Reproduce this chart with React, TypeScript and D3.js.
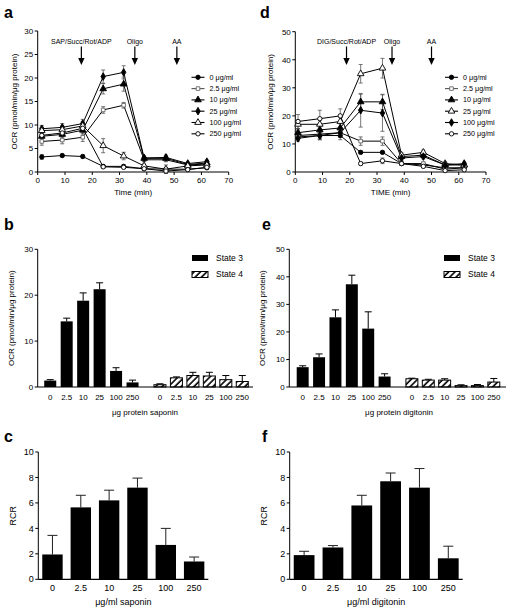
import React from "react";
import * as d3 from "d3";

const FONT = "'Liberation Sans', Arial, Helvetica, sans-serif";

// ---------- shared categories ----------
const concLabels = ["0 μg/ml", "2.5 μg/ml", "10 μg/ml", "25 μg/ml", "100 μg/ml", "250 μg/ml"];
const doseCats = ["0", "2.5", "10", "25", "100", "250"];
const stateNames = ["State 3", "State 4"];

// ---------- panel a (saponin time course) ----------
const aTimes = [1.5, 9, 16.5, 24, 31.5, 39, 47, 55, 62];
const a0 = [3.2, 3.5, 3.3, 1.2, 1.2, 0.7, 0.6, 0.6, 0.9];
const a2_5 = [6.5, 6.8, 7.4, 13.2, 14.2, 2.6, 2.6, 1.5, 1.7];
const a10 = [7.6, 8.0, 8.9, 17.7, 18.7, 2.9, 2.9, 1.6, 1.9];
const a25 = [9.2, 9.5, 10.3, 20.3, 21.2, 3.0, 3.1, 1.8, 2.2];
const a100 = [8.8, 9.0, 9.8, 5.6, 3.4, 1.3, 0.6, 1.3, 1.5];
const a250 = [7.8, 8.3, 9.3, 1.1, 1.0, 0.7, 0.2, 0.5, 1.0];
const a0Err = [0.5, 0.3, 0.3, 0.3, 0.3, 0.2, 0.3, 0.2, 0.2];
const a2_5Err = [0.8, 0.8, 0.9, 0.7, 0.6, 0.4, 0.4, 0.3, 0.3];
const a10Err = [0.6, 0.7, 0.8, 1.1, 1.5, 0.4, 0.4, 0.3, 0.3];
const a25Err = [0.7, 0.8, 0.9, 1.4, 1.4, 0.4, 0.5, 0.3, 0.3];
const a100Err = [0.7, 0.8, 0.9, 1.5, 0.8, 0.4, 0.9, 0.3, 0.3];
const a250Err = [0.6, 0.6, 0.8, 0.3, 0.3, 0.3, 0.5, 0.3, 0.3];
const aMarkers = ["circleF", "squareO", "triangleF", "diamondF", "triangleO", "circleO"];
const aArrowLabels = ["SAP/Succ/Rot/ADP", "Oligo", "AA"];
const aArrowTimes = [16, 35.6, 51];

// ---------- panel d (digitonin time course) ----------
const dTimes = [1, 9, 16.5, 24, 32, 39, 47, 55, 62];
const d0 = [12.5, 13, 13, 7, 7, 3, 2.5, 1.5, 1.5];
const d2_5 = [13, 13.5, 14, 11, 11, 3, 3, 1, 1.5];
const d10 = [14, 15, 15.7, 25, 25, 5.5, 6, 2.5, 2.5];
const d25 = [17, 17, 18, 35, 37, 6, 7, 3, 2.5];
const d100 = [12, 13, 14, 22, 21, 5, 5.5, 2.5, 3];
const d250 = [18, 19, 20, 3, 4, 3, 2, 0.5, 0.8];
const d0Err = [1, 1.5, 1.5, 0.5, 0.5, 0.5, 0.5, 0.5, 0.5];
const d2_5Err = [1, 1.5, 1.5, 1.5, 1.5, 0.5, 0.5, 0.5, 0.5];
const d10Err = [1, 1.5, 1.5, 2.7, 2.7, 0.8, 0.8, 0.5, 0.5];
const d25Err = [1.5, 1.5, 2, 3.3, 3.5, 0.8, 0.8, 0.5, 0.5];
const d100Err = [1, 1.5, 1.5, 6, 6.5, 0.8, 0.8, 0.5, 0.5];
const d250Err = [2.5, 3, 2.5, 0.5, 1, 0.5, 0.5, 0.3, 0.3];
const dMarkers = ["circleF", "squareO", "triangleF", "triangleO", "diamondF", "circleO"];
const dArrowLabels = ["DIG/Succ/Rot/ADP", "Oligo", "AA"];
const dArrowTimes = [18.8, 35.5, 50];

// ---------- panel b ----------
const bState3 = [1.4, 14.3, 18.8, 21.3, 3.5, 1.0];
const bState3Err = [0.2, 0.7, 1.7, 1.4, 0.7, 0.5];
const bState4 = [0.5, 2.0, 2.5, 2.4, 1.6, 1.2];
const bState4Err = [0.2, 0.2, 0.7, 0.8, 0.9, 1.3];

// ---------- panel e ----------
const eState3 = [7.2, 10.8, 25.3, 37.3, 21.2, 3.8];
const eState3Err = [0.5, 1.2, 2.7, 3.3, 6.1, 1.0];
const eState4 = [3.0, 2.5, 2.5, 0.5, 0.5, 1.8];
const eState4Err = [0.2, 0.3, 0.5, 0.3, 0.4, 1.3];

// ---------- panel c / f ----------
const cRCR = [1.95, 5.65, 6.2, 7.2, 2.7, 1.4];
const cRCRErr = [1.5, 0.95, 0.8, 0.75, 1.3, 0.35];
const fRCR = [1.9, 2.5, 5.8, 7.7, 7.2, 1.65];
const fRCRErr = [0.3, 0.15, 0.8, 0.65, 1.5, 0.95];

type Lin = d3.ScaleLinear<number, number>;

function Marker({ type, x, y }: { type: string; x: number; y: number }) {
  const shape = type.slice(0, -1);
  const open = type.endsWith("O");
  const map: any = {
    circle: d3.symbolCircle,
    square: d3.symbolSquare,
    triangle: d3.symbolTriangle,
    diamond: d3.symbolDiamond,
  };
  const size = shape === "triangle" ? 19 : shape === "diamond" ? 17 : shape === "square" ? 13 : 15;
  const p = d3.symbol().type(map[shape]).size(size)() as string;
  const stroke = shape === "square" ? "#666" : "#000";
  return (
    <path
      d={p}
      transform={`translate(${x},${y})`}
      fill={open ? "#fff" : "#000"}
      stroke={stroke}
      strokeWidth={0.9}
    />
  );
}

function YAxis({ x, y, ticks, fs }: { x: number; y: Lin; ticks: number[]; fs: number }) {
  const [d0, d1] = y.domain();
  return (
    <g>
      <line x1={x} x2={x} y1={y(d0)} y2={y(d1)} stroke="#000" strokeWidth={1} />
      {ticks.map((t) => (
        <g key={t}>
          <line x1={x - 3} x2={x} y1={y(t)} y2={y(t)} stroke="#000" strokeWidth={1} />
          <text x={x - 4.5} y={y(t)} dy="0.35em" textAnchor="end" fontSize={fs} fontFamily={FONT}>
            {t}
          </text>
        </g>
      ))}
    </g>
  );
}

function LinePanel(props: {
  x: Lin;
  y: Lin;
  yTicks: number[];
  times: number[];
  series: number[][];
  errs: number[][];
  markers: string[];
  arrowLabels: string[];
  arrowTimes: number[];
  legendX: number;
  xTitle: string;
  yTitleX: number;
}) {
  const { x, y, times, series, errs, markers } = props;
  const y0 = y(0);
  const line = d3
    .line<number>()
    .x((_, i) => x(times[i]))
    .y((v) => y(v));
  const xt = x.ticks(7);
  const midX = (x.range()[0] + x.range()[1]) / 2;
  const midY = (y.range()[0] + y.range()[1]) / 2;
  return (
    <g>
      <YAxis x={x.range()[0]} y={y} ticks={props.yTicks} fs={8} />
      <line x1={x.range()[0]} x2={x.range()[1]} y1={y0} y2={y0} stroke="#000" />
      {xt.map((t) => (
        <g key={t}>
          <line x1={x(t)} x2={x(t)} y1={y0} y2={y0 + 3} stroke="#000" />
          <text x={x(t)} y={y0 + 11} textAnchor="middle" fontSize={8} fontFamily={FONT}>
            {t}
          </text>
        </g>
      ))}
      <text x={midX} y={y0 + 23} textAnchor="middle" fontSize={8} fontFamily={FONT}>
        {props.xTitle}
      </text>
      <text
        transform={`translate(${props.yTitleX},${midY}) rotate(-90)`}
        textAnchor="middle"
        fontSize={8}
        fontFamily={FONT}
      >
        OCR (pmol/min/μg protein)
      </text>
      {/* arrows */}
      {props.arrowLabels.map((lab, i) => {
        const ax = x(props.arrowTimes[i]);
        return (
          <g key={lab}>
            <text x={ax} y={43.5} textAnchor="middle" fontSize={7} fontFamily={FONT}>
              {lab}
            </text>
            <line x1={ax} x2={ax} y1={46.5} y2={60} stroke="#000" strokeWidth={1.2} />
            <path d={`M${ax - 3.2},58 L${ax + 3.2},58 L${ax},65 Z`} fill="#000" />
          </g>
        );
      })}
      {/* lines */}
      {series.map((s, k) => (
        <path key={"l" + k} d={line(s) as string} fill="none" stroke="#000" strokeWidth={1} />
      ))}
      {/* error bars */}
      {series.map((s, k) =>
        s.map((v, i) => {
          const e = errs[k][i];
          const cx = x(times[i]);
          return (
            <g key={`e${k}-${i}`} stroke="#555" strokeWidth={0.8}>
              <line x1={cx} x2={cx} y1={y(v - e)} y2={y(v + e)} />
              <line x1={cx - 2} x2={cx + 2} y1={y(v - e)} y2={y(v - e)} />
              <line x1={cx - 2} x2={cx + 2} y1={y(v + e)} y2={y(v + e)} />
            </g>
          );
        })
      )}
      {series.map((s, k) =>
        s.map((v, i) => <Marker key={`m${k}-${i}`} type={markers[k]} x={x(times[i])} y={y(v)} />)
      )}
      {/* legend */}
      {concLabels.map((lab, k) => {
        const ly = 77.3 + k * 11.3;
        const lx = props.legendX;
        return (
          <g key={lab}>
            <line x1={lx} x2={lx + 13} y1={ly} y2={ly} stroke={markers[k] === "squareO" ? "#555" : "#000"} strokeWidth={1.1} />
            <Marker type={markers[k]} x={lx + 6.5} y={ly} />
            <text x={lx + 18} y={ly} dy="0.35em" fontSize={7.2} fontFamily={FONT} fill="#000">
              {lab}
            </text>
          </g>
        );
      })}
    </g>
  );
}

function StateBarPanel(props: {
  y: Lin;
  yTicks: number[];
  axisX0: number;
  axisX1: number;
  bandX0: number;
  bandX1: number;
  s3: number[];
  s3e: number[];
  s4: number[];
  s4e: number[];
  xTitle: string;
  xTitleX: number;
  yTitleX: number;
  legendX: number;
}) {
  const { y } = props;
  const y0 = y(0);
  const outer = d3.scaleBand<string>().domain(stateNames).range([props.bandX0, props.bandX1]).paddingInner(0.1).paddingOuter(0);
  const inner = d3
    .scaleBand<string>()
    .domain(doseCats)
    .range([0, outer.bandwidth()])
    .paddingInner(0.27)
    .paddingOuter(0.135);
  const groups = [
    { name: stateNames[0], vals: props.s3, errs: props.s3e },
    { name: stateNames[1], vals: props.s4, errs: props.s4e },
  ];
  const bw = inner.bandwidth();
  const midY = (y.range()[0] + y.range()[1]) / 2;
  return (
    <g>
      {groups.map((g, gi) =>
        g.vals.map((v, i) => {
          const bx = (outer(g.name) as number) + (inner(doseCats[i]) as number);
          const cx = bx + bw / 2;
          const top = y(v + g.errs[i]);
          return (
            <g key={`${gi}-${i}`}>
              <line x1={cx} x2={cx} y1={y(v)} y2={top} stroke="#000" strokeWidth={1} />
              <line x1={cx - 3.5} x2={cx + 3.5} y1={top} y2={top} stroke="#000" strokeWidth={1} />
              <rect
                x={bx}
                y={y(v)}
                width={bw}
                height={y0 - y(v)}
                fill={gi === 0 ? "#000" : "url(#hatch)"}
                stroke="#000"
                strokeWidth={gi === 0 ? 0 : 1}
              />
              <text x={cx} y={y0 + 12.5} textAnchor="middle" fontSize={8} fontFamily={FONT}>
                {doseCats[i]}
              </text>
            </g>
          );
        })
      )}
      <YAxis x={props.axisX0} y={y} ticks={props.yTicks} fs={8} />
      <line x1={props.axisX0} x2={props.axisX1} y1={y0} y2={y0} stroke="#000" strokeWidth={1.2} />
      <text x={props.xTitleX} y={y0 + 28} textAnchor="middle" fontSize={8} fontFamily={FONT}>
        {props.xTitle}
      </text>
      <text
        transform={`translate(${props.yTitleX},${midY}) rotate(-90)`}
        textAnchor="middle"
        fontSize={8}
        fontFamily={FONT}
      >
        OCR (pmol/min/μg protein)
      </text>
      {stateNames.map((s, k) => {
        const ly = 255 + k * 16.5;
        return (
          <g key={s}>
            <rect
              x={props.legendX}
              y={ly}
              width={16}
              height={6}
              fill={k === 0 ? "#000" : "url(#hatch)"}
              stroke="#000"
              strokeWidth={k === 0 ? 0 : 1}
            />
            <text x={props.legendX + 24} y={ly + 3} dy="0.35em" fontSize={8.5} fontFamily={FONT}>
              {s}
            </text>
          </g>
        );
      })}
    </g>
  );
}

function RCRPanel(props: {
  y: Lin;
  axisX0: number;
  axisX1: number;
  vals: number[];
  errs: number[];
  xTitle: string;
  yTitleX: number;
}) {
  const { y } = props;
  const y0 = y(0);
  const xb = d3
    .scaleBand<string>()
    .domain(doseCats)
    .range([props.axisX0, props.axisX1])
    .paddingInner(0.28)
    .paddingOuter(0.14);
  const bw = xb.bandwidth();
  const midY = (y.range()[0] + y.range()[1]) / 2;
  return (
    <g>
      {props.vals.map((v, i) => {
        const bx = xb(doseCats[i]) as number;
        const cx = bx + bw / 2;
        const top = y(v + props.errs[i]);
        return (
          <g key={i}>
            <line x1={cx} x2={cx} y1={y(v)} y2={top} stroke="#222" strokeWidth={1} />
            <line x1={cx - 5} x2={cx + 5} y1={top} y2={top} stroke="#222" strokeWidth={1} />
            <rect x={bx} y={y(v)} width={bw} height={y0 - y(v)} fill="#000" />
            <text x={cx} y={y0 + 12} textAnchor="middle" fontSize={9} fontFamily={FONT}>
              {doseCats[i]}
            </text>
          </g>
        );
      })}
      <YAxis x={props.axisX0} y={y} ticks={[0, 2, 4, 6, 8, 10]} fs={9} />
      <line x1={props.axisX0} x2={props.axisX1} y1={y0} y2={y0} stroke="#000" strokeWidth={1.2} />
      <text
        x={(props.axisX0 + props.axisX1) / 2}
        y={y0 + 26}
        textAnchor="middle"
        fontSize={9}
        fontFamily={FONT}
      >
        {props.xTitle}
      </text>
      <text
        transform={`translate(${props.yTitleX},${midY}) rotate(-90)`}
        textAnchor="middle"
        fontSize={9}
        fontFamily={FONT}
      >
        RCR
      </text>
    </g>
  );
}

function PanelLabel({ x, y, t }: { x: number; y: number; t: string }) {
  return (
    <text x={x} y={y} fontSize={16} fontWeight="bold" fontFamily={FONT}>
      {t}
    </text>
  );
}

export default function App() {
  const aX = d3.scaleLinear().domain([0, 70]).range([37.7, 228.7]);
  const aY = d3.scaleLinear().domain([0, 30]).range([172, 31]);
  const dX = d3.scaleLinear().domain([0, 70]).range([295.3, 486]);
  const dY = d3.scaleLinear().domain([0, 50]).range([172, 31.7]);
  const bY = d3.scaleLinear().domain([0, 30]).range([387, 249.3]);
  const eY = d3.scaleLinear().domain([0, 50]).range([387, 249.3]);
  const cY = d3.scaleLinear().domain([0, 10]).range([579.3, 452]);
  const fY = d3.scaleLinear().domain([0, 10]).range([579.3, 452]);

  return (
    <svg
      width={512}
      height={613}
      viewBox="0 0 512 613"
      style={{ position: "absolute", left: 0, top: 0, background: "#fff" }}
    >
      <defs>
        <pattern id="hatch" patternUnits="userSpaceOnUse" width={4.5} height={4.5} patternTransform="rotate(45)">
          <rect width={4.5} height={4.5} fill="#fff" />
          <line x1={1} y1={0} x2={1} y2={4.5} stroke="#000" strokeWidth={1.6} />
        </pattern>
      </defs>
      <rect width={512} height={613} fill="#fff" />

      <PanelLabel x={4} y={18} t="a" />
      <LinePanel
        x={aX}
        y={aY}
        yTicks={[0, 5, 10, 15, 20, 25, 30]}
        times={aTimes}
        series={[a0, a2_5, a10, a25, a100, a250]}
        errs={[a0Err, a2_5Err, a10Err, a25Err, a100Err, a250Err]}
        markers={aMarkers}
        arrowLabels={aArrowLabels}
        arrowTimes={aArrowTimes}
        legendX={191.5}
        xTitle="Time (min)"
        yTitleX={16.5}
      />

      <PanelLabel x={260} y={18} t="d" />
      <LinePanel
        x={dX}
        y={dY}
        yTicks={[0, 10, 20, 30, 40, 50]}
        times={dTimes}
        series={[d0, d2_5, d10, d25, d100, d250]}
        errs={[d0Err, d2_5Err, d10Err, d25Err, d100Err, d250Err]}
        markers={dMarkers}
        arrowLabels={dArrowLabels}
        arrowTimes={dArrowTimes}
        legendX={445}
        xTitle="TIME (min)"
        yTitleX={273}
      />

      <PanelLabel x={4} y={230} t="b" />
      <StateBarPanel
        y={bY}
        yTicks={[0, 10, 20, 30]}
        axisX0={37.7}
        axisX1={253}
        bandX0={42}
        bandX1={250.5}
        s3={bState3}
        s3e={bState3Err}
        s4={bState4}
        s4e={bState4Err}
        xTitle="μg protein saponin"
        xTitleX={145}
        yTitleX={14}
        legendX={192}
      />

      <PanelLabel x={262} y={230} t="e" />
      <StateBarPanel
        y={eY}
        yTicks={[0, 10, 20, 30, 40, 50]}
        axisX0={289.3}
        axisX1={506}
        bandX0={294.5}
        bandX1={502}
        s3={eState3}
        s3e={eState3Err}
        s4={eState4}
        s4e={eState4Err}
        xTitle="μg protein digitonin"
        xTitleX={399}
        yTitleX={265}
        legendX={444}
      />

      <PanelLabel x={4} y={442} t="c" />
      <RCRPanel y={cY} axisX0={38.3} axisX1={208.3} vals={cRCR} errs={cRCRErr} xTitle="μg/ml saponin" yTitleX={15.5} />

      <PanelLabel x={262} y={442} t="f" />
      <RCRPanel y={fY} axisX0={289.7} axisX1={462.7} vals={fRCR} errs={fRCRErr} xTitle="μg/ml digitonin" yTitleX={266.5} />
    </svg>
  );
}
